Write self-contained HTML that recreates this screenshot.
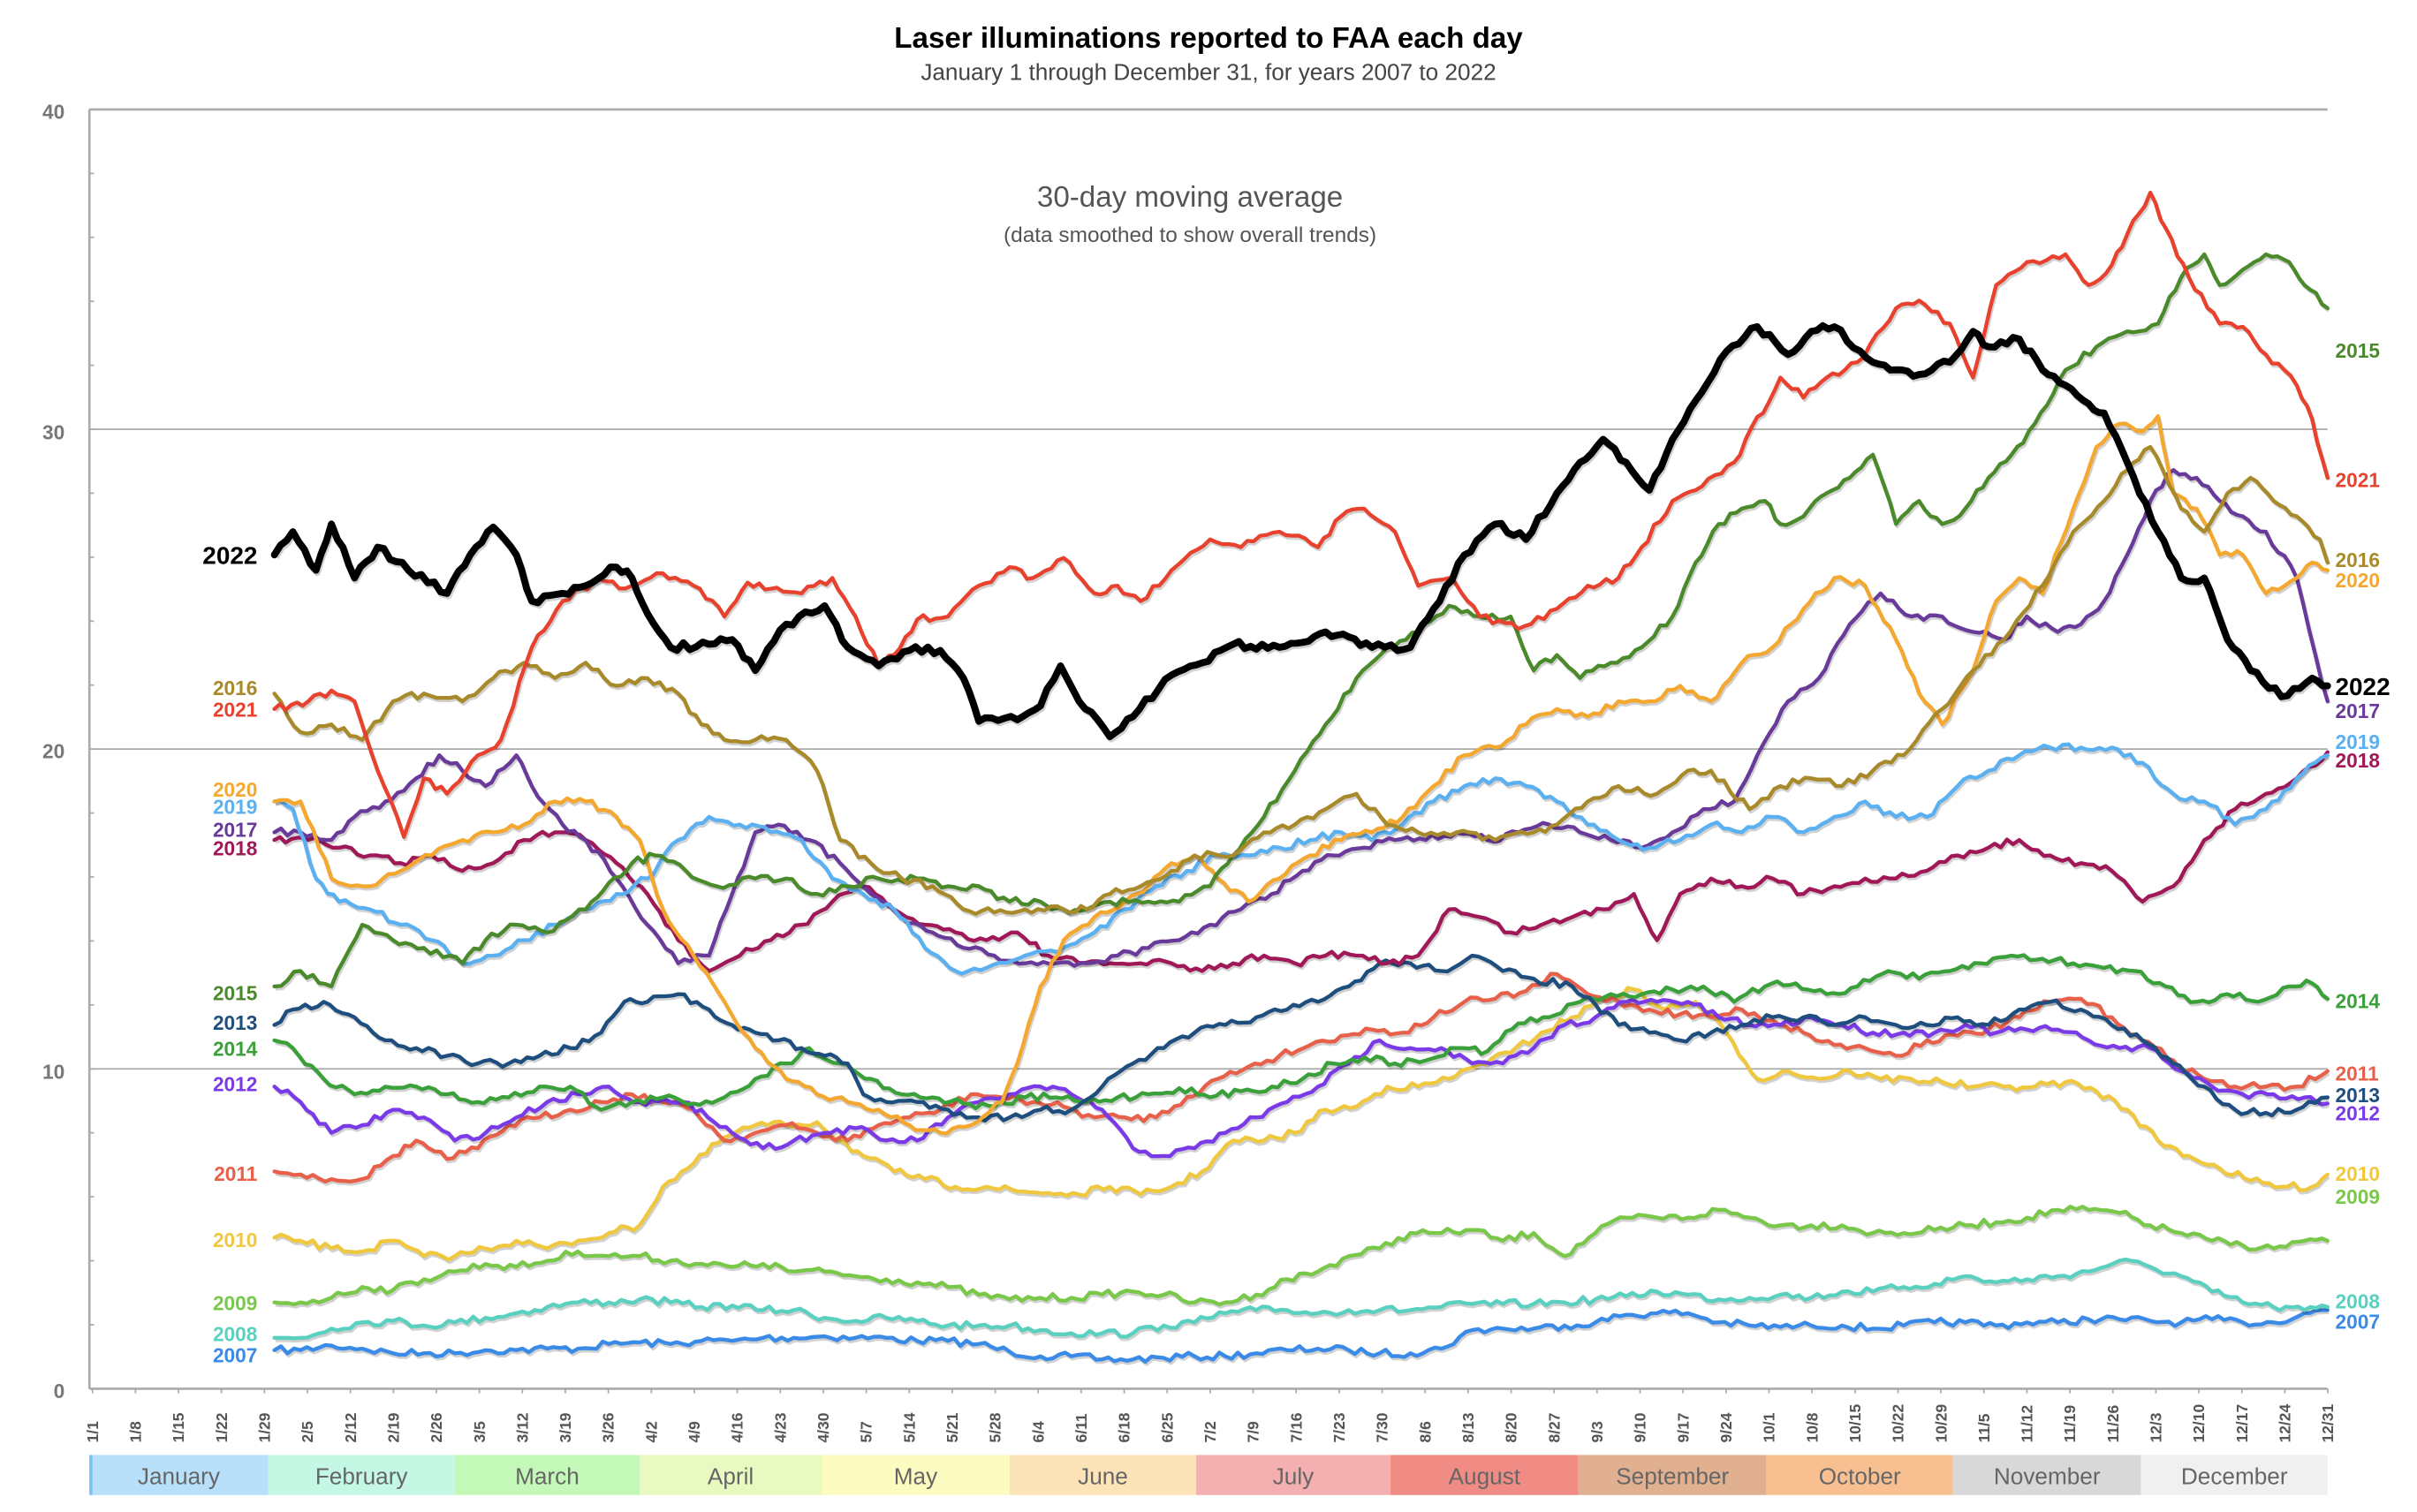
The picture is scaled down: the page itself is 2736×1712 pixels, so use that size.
<!DOCTYPE html>
<html><head><meta charset="utf-8"><style>
html,body{margin:0;padding:0;background:#fff}
svg{display:block}
text{font-family:"Liberation Sans",Arial,sans-serif}
</style></head><body>
<svg id="s" width="2736" height="1712" viewBox="0 0 1568 981" preserveAspectRatio="none" xmlns="http://www.w3.org/2000/svg">
<rect width="1568" height="981" fill="#fff"/>
<text x="784" y="31" text-anchor="middle" font-size="19" font-weight="bold" fill="#000">Laser illuminations reported to FAA each day</text>
<text x="784" y="52" text-anchor="middle" font-size="15" fill="#444">January 1 through December 31, for years 2007 to 2022</text>
<text x="772" y="134" text-anchor="middle" font-size="19" fill="#555">30-day moving average</text>
<text x="772" y="157" text-anchor="middle" font-size="14" fill="#555">(data smoothed to show overall trends)</text>
<g stroke="#aaa" stroke-width="1">
<line x1="58" y1="71" x2="1510" y2="71" stroke-width="1.5"/>
<line x1="58" y1="278.5" x2="1510" y2="278.5"/>
<line x1="58" y1="486" x2="1510" y2="486"/>
<line x1="58" y1="693.5" x2="1510" y2="693.5"/>
<line x1="58" y1="71" x2="58" y2="901" stroke-width="1.5"/>
<line x1="58" y1="901" x2="1510" y2="901" stroke-width="1.5"/>
</g>
<g font-size="13" font-weight="bold" fill="#777" text-anchor="end">
<text x="42" y="77">40</text><text x="42" y="285">30</text><text x="42" y="492">20</text><text x="42" y="700">10</text><text x="42" y="907">0</text>
</g>
<g id="ticks"></g>
<g id="months"></g>
<g id="series"></g>
<g id="labels" font-size="13" font-weight="bold"></g>
</svg>
<script>
var NS="http://www.w3.org/2000/svg";
function el(t,a,p,txt){var e=document.createElementNS(NS,t);for(var k in a)e.setAttribute(k,a[k]);if(txt!==undefined)e.textContent=txt;p.appendChild(e);return e;}
var tg=document.getElementById('ticks');
var ml=[31,28,31,30,31,30,31,31,30,31,30,31];
function lab(d){var m=0;while(d>=ml[m]){d-=ml[m];m++;}return (m+1)+'/'+(d+1);}
var ds=[];for(var d=0;d<=357;d+=7)ds.push(d);ds.push(364);
ds.forEach(function(d){var x=60+d*3.984;
 el('line',{x1:x,y1:901,x2:x,y2:904,stroke:'#aaa'},tg);
 el('text',{x:0,y:0,transform:'translate('+(x+3.5)+',936) rotate(-90)','font-size':'10','font-weight':'bold',fill:'#555'},tg,lab(d));});
for(var v=2;v<40;v+=2){var y=901-v*20.75;el('line',{x1:58,y1:y,x2:61,y2:y,stroke:'#aaa'},tg);}
var mg=document.getElementById('months');
var mb=[58,174,295,415,533,655,776,902,1024,1146,1267,1389,1510];
var mc=['#b8e0fa','#c4f8e4','#c4f8b8','#e8fac0','#fcfcc0','#fce4b8','#f4b0b0','#f08c84','#e0b090','#f8c090','#d8d8d8','#f0f0f0'];
var mn=['January','February','March','April','May','June','July','August','September','October','November','December'];
for(var i=0;i<12;i++){el('rect',{x:mb[i],y:944,width:mb[i+1]-mb[i],height:26,fill:mc[i]},mg);
 el('text',{x:(mb[i]+mb[i+1])/2,y:963,'text-anchor':'middle','font-size':'15',fill:'#666'},mg,mn[i]);}
el('rect',{x:58,y:944,width:2,height:26,fill:'#7cc0f0'},mg);
var S=[
['2007','#3a8ae8',2.5,[178,876,195,876,215,873,235,875,255,878,275,878,295,878,315,876,335,876,355,875,375,875,395,872,415,871,435,872,455,870,475,870,495,868,515,868,535,867,555,868,575,868,595,870,615,870,635,872,655,877,675,880,695,880,715,882,735,882,755,881,775,880,795,880,815,878,835,876,855,875,875,876,895,878,915,878,935,875,955,863,975,862,995,862,1015,860,1035,858,1055,853,1075,852,1095,852,1115,858,1135,860,1155,861,1175,860,1195,860,1215,862,1235,860,1255,858,1275,858,1295,860,1315,858,1335,858,1355,856,1375,856,1395,857,1415,858,1435,856,1455,858,1475,858,1495,852,1510,850],880,858],
['2008','#5ad0c0',2.5,[178,868,195,868,215,862,235,858,255,857,275,860,295,858,315,855,335,852,355,848,375,845,395,845,415,843,435,845,455,848,475,847,495,850,515,850,535,855,555,857,575,855,595,857,615,860,635,860,655,860,675,863,695,865,715,865,735,865,755,860,775,858,795,852,815,850,835,850,855,852,875,850,895,850,915,850,935,848,955,846,975,846,995,846,1015,845,1035,843,1055,841,1075,838,1095,840,1115,843,1135,842,1155,840,1175,842,1195,838,1215,838,1235,835,1255,833,1275,828,1295,832,1315,830,1335,828,1355,825,1375,818,1395,822,1415,828,1435,838,1455,845,1475,848,1495,850,1510,848],866,845],
['2009','#7ac84a',2.5,[178,845,195,845,215,842,235,835,255,837,275,830,295,825,315,820,335,822,355,818,375,812,395,815,415,815,435,818,455,820,475,822,495,820,515,825,535,825,555,828,575,830,595,832,615,835,635,840,655,843,675,842,695,842,715,840,735,838,755,840,775,845,795,845,815,840,835,830,855,825,875,815,895,810,915,800,935,800,955,798,975,805,995,800,1015,815,1035,800,1055,790,1075,790,1095,790,1115,785,1135,790,1155,795,1175,795,1195,795,1215,800,1235,800,1255,798,1275,795,1295,793,1315,790,1335,785,1355,785,1375,787,1395,795,1415,800,1435,805,1455,808,1475,810,1495,805,1510,805],846,777],
['2010','#f0c840',2.5,[178,803,195,805,215,810,235,812,255,805,275,815,295,815,315,810,335,805,355,810,375,805,395,800,415,795,430,770,450,755,470,738,490,730,510,730,530,728,545,740,560,750,580,760,600,765,620,770,640,770,660,773,680,774,700,775,720,770,740,775,760,770,780,760,800,740,820,740,840,735,860,720,880,718,900,705,920,705,940,700,960,690,980,683,1000,670,1020,660,1040,648,1060,642,1080,655,1100,650,1120,670,1140,700,1160,695,1180,700,1200,695,1220,700,1240,700,1260,702,1280,705,1300,705,1320,705,1340,702,1360,708,1380,720,1400,740,1420,750,1440,758,1460,766,1480,770,1500,770,1510,762],805,762],
['2011','#e8604a',2.5,[178,760,195,762,215,765,235,765,255,750,270,740,290,752,310,745,330,730,350,725,370,720,390,715,410,710,430,715,450,720,470,740,490,735,510,730,530,735,550,740,570,730,590,725,610,720,630,710,650,712,670,715,690,718,710,725,730,725,750,725,770,712,790,700,810,692,830,685,850,678,870,672,890,668,910,670,930,660,950,650,970,648,990,643,1010,632,1030,645,1050,650,1070,655,1090,658,1110,660,1130,655,1150,662,1170,670,1190,678,1210,680,1230,685,1250,675,1270,672,1290,668,1310,660,1330,650,1350,648,1370,660,1390,675,1410,688,1430,700,1450,705,1470,705,1490,705,1510,695],762,697],
['2012','#7a3ae8',2.5,[178,705,195,715,215,735,235,730,255,720,275,725,295,740,315,735,335,725,355,715,375,710,395,705,415,715,435,715,455,720,475,735,495,745,515,740,535,735,555,732,575,740,595,740,615,725,635,715,655,710,675,705,695,710,715,720,735,745,755,750,775,745,795,735,815,725,835,715,855,705,875,690,895,675,915,680,935,680,955,690,975,690,995,680,1015,665,1035,660,1055,650,1075,650,1095,650,1115,660,1135,665,1155,665,1175,660,1195,665,1215,670,1235,670,1255,670,1275,665,1295,670,1315,668,1335,668,1355,675,1375,680,1395,680,1415,695,1435,705,1455,710,1475,710,1495,712,1510,716],704,723],
['2014','#3aa03a',2.5,[178,675,190,680,210,700,230,710,250,705,270,705,290,710,310,715,330,712,350,705,370,705,390,720,410,715,430,712,450,716,470,712,490,700,510,690,525,680,545,690,565,700,585,710,605,712,625,716,645,718,665,712,685,712,705,715,725,712,745,710,765,706,785,712,805,708,825,705,845,700,865,690,885,686,905,690,925,688,945,680,965,682,985,664,1005,660,1025,650,1045,645,1065,645,1085,642,1105,640,1125,650,1145,640,1165,638,1185,645,1205,640,1225,630,1245,635,1265,630,1285,625,1305,620,1325,622,1345,625,1365,628,1385,630,1405,640,1425,650,1445,645,1465,650,1485,640,1500,638,1510,648],681,650],
['2013','#1e4e7e',2.5,[178,665,190,655,210,650,230,660,250,675,270,680,290,685,310,690,330,690,350,685,370,680,390,670,405,650,420,650,440,645,460,655,475,665,490,670,505,675,520,680,535,685,550,690,560,710,575,715,595,715,615,720,635,725,655,725,675,720,695,720,715,705,735,690,755,680,775,670,795,665,815,660,835,655,855,650,875,640,895,625,915,625,935,630,955,620,975,630,995,635,1020,640,1050,665,1070,670,1090,675,1110,670,1130,665,1150,660,1170,660,1190,665,1210,660,1230,665,1250,665,1270,660,1290,665,1310,655,1330,650,1350,655,1370,665,1390,675,1410,690,1430,705,1450,720,1470,722,1490,720,1510,712],664,711],
['2018','#a01858',2.5,[178,545,200,545,220,550,240,555,260,560,280,555,300,565,320,560,340,545,360,540,380,545,400,560,420,580,440,610,460,630,480,620,500,610,520,600,540,585,560,575,580,590,600,600,620,605,640,610,660,605,680,620,700,625,720,625,740,625,760,625,780,630,800,625,820,620,840,625,860,620,880,620,900,625,920,620,940,590,960,595,980,605,1000,600,1020,595,1040,590,1060,580,1075,610,1090,580,1110,570,1130,575,1150,570,1170,580,1190,575,1210,570,1230,570,1250,565,1270,555,1290,550,1310,545,1330,555,1350,560,1370,565,1390,585,1410,575,1430,545,1450,525,1470,515,1490,505,1510,488],551,494],
['2017','#6a3a9a',2.5,[178,540,195,540,215,545,230,530,250,520,270,505,285,490,300,500,315,510,335,490,345,510,365,535,380,545,400,570,420,600,440,625,460,620,475,580,490,540,505,535,525,545,545,560,565,580,585,595,605,605,625,615,645,620,665,625,685,625,705,625,725,620,745,615,765,610,785,600,805,590,825,580,845,565,865,555,885,550,905,545,925,545,945,540,965,545,985,540,1005,535,1025,540,1045,545,1065,550,1085,540,1105,525,1125,520,1140,490,1160,455,1180,440,1200,405,1220,385,1240,400,1260,400,1280,410,1300,415,1315,400,1335,410,1350,405,1365,390,1380,360,1395,325,1410,305,1425,310,1440,325,1455,335,1470,345,1490,375,1510,455],539,462],
['2019','#5ab0f0',2.5,[178,520,190,525,205,570,220,585,240,590,260,600,280,610,300,625,320,620,340,610,360,600,380,590,400,580,420,570,440,545,460,530,480,535,500,540,520,545,540,570,560,580,580,590,600,615,620,630,640,628,665,620,690,615,710,605,730,590,750,575,770,565,790,555,810,555,830,550,850,545,870,540,890,545,910,535,930,520,950,510,970,505,990,510,1010,520,1030,535,1050,545,1070,550,1090,545,1110,535,1130,540,1150,530,1170,540,1190,530,1210,520,1230,530,1250,530,1270,510,1290,500,1310,490,1330,485,1350,485,1370,485,1390,495,1410,515,1430,520,1450,535,1470,525,1490,505,1510,490],524,482],
['2020','#f4a830',2.5,[178,520,195,520,215,570,240,575,260,565,280,555,300,545,320,540,340,535,360,520,380,520,400,530,415,545,430,590,450,620,470,650,490,680,510,700,530,710,550,715,570,720,590,730,610,735,630,730,650,715,660,690,675,640,690,610,710,595,730,585,745,575,760,560,775,555,790,570,810,585,830,570,850,555,870,545,890,540,910,530,930,510,950,490,970,485,990,470,1010,460,1030,465,1050,455,1070,455,1090,445,1110,455,1130,430,1150,420,1170,395,1190,375,1210,380,1230,415,1245,450,1260,470,1280,435,1295,390,1310,375,1325,385,1345,330,1360,290,1375,275,1390,280,1400,270,1410,320,1425,330,1440,360,1455,360,1470,385,1490,375,1500,365,1510,370],513,377],
['2015','#4a8a2a',2.5,[178,640,195,630,215,640,235,600,255,610,275,615,300,625,315,610,335,600,355,605,380,590,410,560,425,555,445,565,465,575,490,570,510,570,530,580,550,575,570,570,595,570,615,575,635,575,655,585,675,585,690,590,705,590,720,585,745,585,765,585,785,575,800,555,820,530,840,500,860,470,880,440,900,420,920,410,940,393,960,400,980,400,995,435,1010,425,1025,440,1045,430,1065,420,1085,400,1100,365,1115,340,1130,330,1145,325,1155,340,1170,335,1185,320,1200,310,1215,295,1230,340,1245,325,1260,340,1275,330,1290,310,1305,295,1320,275,1340,240,1360,225,1380,215,1400,210,1415,180,1430,165,1440,185,1455,175,1470,165,1485,170,1495,185,1510,200],645,228],
['2016','#a88a2a',2.5,[178,450,195,475,215,470,235,480,255,455,275,450,300,455,320,440,340,430,360,440,380,430,400,445,420,440,440,450,455,470,470,480,490,480,510,480,530,500,545,545,565,560,585,570,605,575,625,590,645,592,665,590,690,590,705,590,720,580,740,575,760,565,775,555,800,555,820,540,840,535,860,525,880,515,900,535,920,540,945,540,970,545,995,540,1010,535,1030,520,1050,510,1075,515,1095,500,1110,500,1135,525,1155,510,1175,505,1195,510,1215,500,1235,490,1260,460,1280,435,1300,415,1325,380,1345,345,1365,325,1380,305,1395,290,1415,330,1430,345,1445,320,1460,310,1475,325,1490,335,1505,350,1510,365],447,364],
['2021','#e8422e',2.5,[178,460,200,455,215,448,230,455,245,500,262,543,275,505,290,515,310,490,325,480,345,420,365,390,385,378,410,380,430,372,450,380,470,400,485,378,500,382,520,385,540,375,555,400,570,432,580,425,595,402,615,400,635,380,655,368,670,375,690,362,710,385,725,380,740,390,760,370,785,350,805,355,830,345,855,355,870,335,885,330,905,345,920,380,940,375,960,400,985,408,1010,395,1030,380,1050,375,1065,355,1085,325,1100,318,1125,300,1155,245,1170,258,1185,245,1205,235,1230,200,1245,195,1265,210,1280,245,1295,185,1315,170,1340,165,1355,185,1370,172,1380,152,1395,125,1405,148,1420,180,1440,210,1455,212,1470,230,1490,250,1500,272,1510,310],461,312],
['2022','#000',4.5,[178,360,190,345,205,370,215,340,230,375,245,355,265,370,290,385,305,360,320,342,335,360,345,390,365,385,380,380,400,368,410,375,420,398,435,420,460,418,475,415,490,435,510,405,535,393,550,420,570,432,590,422,610,422,625,440,635,468,660,467,675,458,688,432,700,455,720,478,735,465,760,438,780,430,800,418,830,420,860,410,890,420,915,420,930,395,950,360,970,340,990,350,1010,320,1025,300,1040,285,1055,300,1070,318,1085,285,1100,260,1120,228,1140,212,1160,230,1175,215,1190,212,1215,235,1245,243,1265,235,1280,215,1290,225,1310,220,1325,240,1340,250,1355,262,1365,268,1380,300,1400,345,1415,375,1430,375,1445,415,1460,435,1480,452,1500,440,1510,445],null,null]
];
var sg=document.getElementById('series'),lg=document.getElementById('labels');
var seed=7;function rnd(){seed=(seed*16807)%2147483647;return seed/2147483647-0.5;}
S.forEach(function(s){var p=s[3],pts=[];
 for(var i=0;i<p.length-2;i+=2){var x0=p[i],y0=p[i+1],x1=p[i+2],y1=p[i+3];var n=Math.max(1,Math.round((x1-x0)/4));
  for(var k=0;k<n;k++){var t=k/n;var j=(k==0)?0:rnd()*5;pts.push([(x0+(x1-x0)*t).toFixed(1),(y0+(y1-y0)*t+j).toFixed(1)]);}}
 pts.push([p[p.length-2],p[p.length-1]]);
 var str=pts.map(function(a){return a.join(',')}).join(' ');
 el('polyline',{points:str,fill:'none',stroke:'#000','stroke-opacity':'0.18','stroke-width':s[2],transform:'translate(0.8,1.5)','stroke-linejoin':'round'},sg);
 el('polyline',{points:str,fill:'none',stroke:s[1],'stroke-width':s[2],'stroke-linejoin':'round','stroke-linecap':'round'},sg);
 if(s[4]!==null){el('text',{x:167,y:s[4]+4,'text-anchor':'end',fill:s[1]},lg,s[0]);
  el('text',{x:1515,y:s[5]+4,fill:s[1]},lg,s[0]);}
});
el('text',{x:167,y:366,'text-anchor':'end',fill:'#000','font-size':'16'},lg,'2022');
el('text',{x:1515,y:451,fill:'#000','font-size':'16'},lg,'2022');
</script>
</body></html>
